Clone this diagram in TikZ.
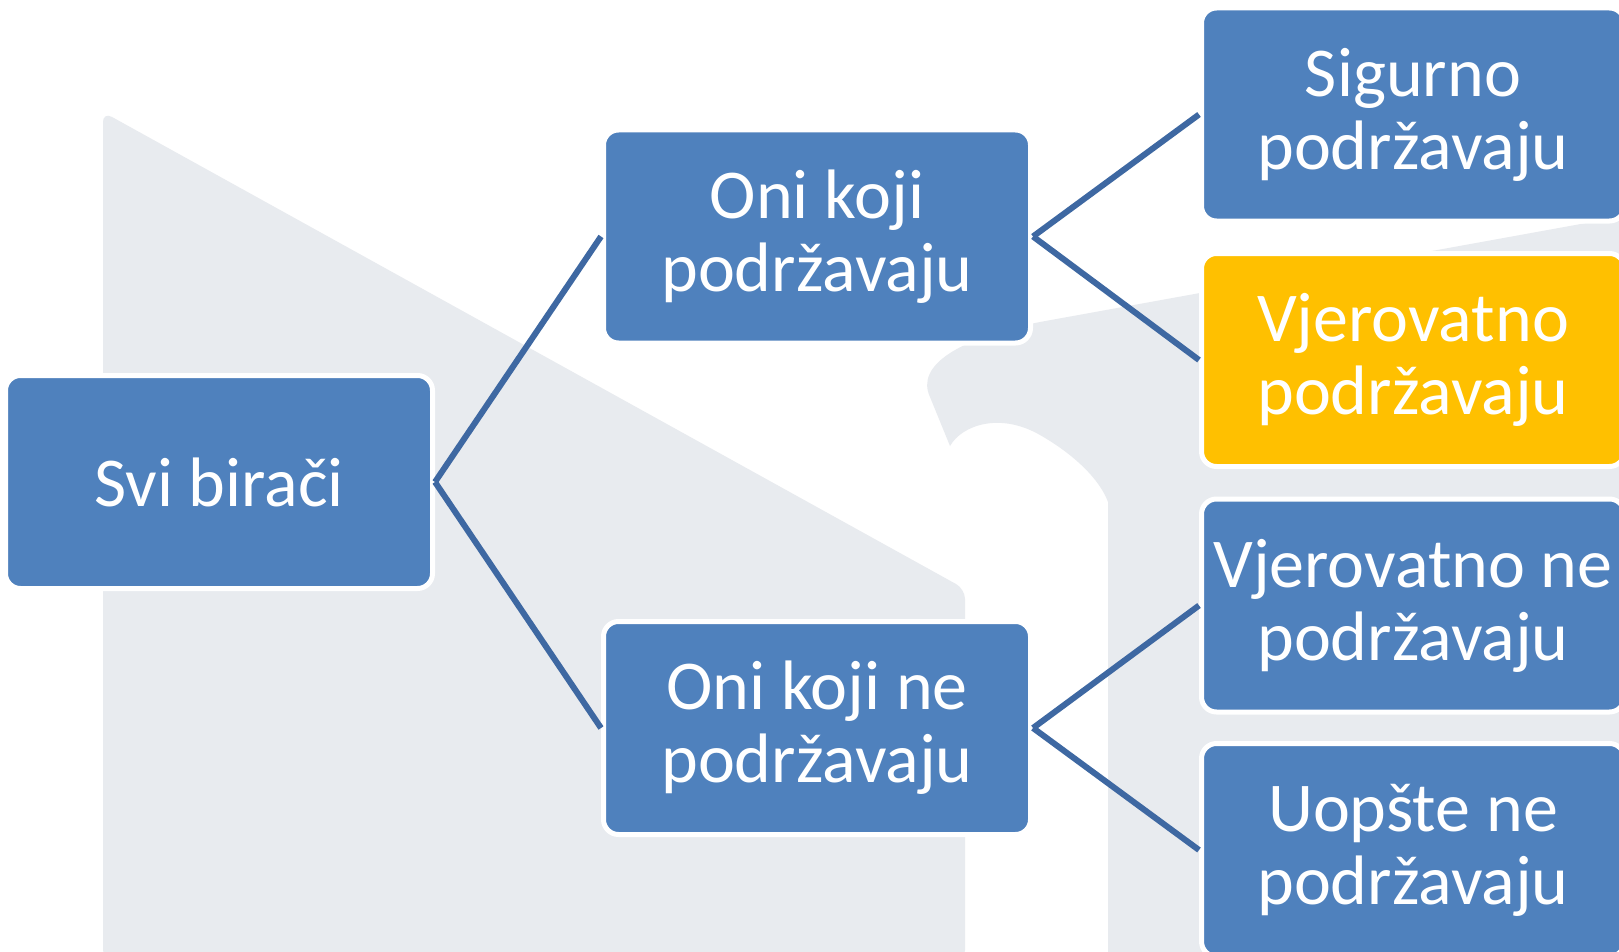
\documentclass[tikz,border=0pt]{standalone}
\usepackage{fontspec}
\setmainfont{Carlito}
\definecolor{boxblue}{RGB}{79,129,189}
\definecolor{boxyellow}{RGB}{255,192,0}
\definecolor{linkblue}{RGB}{62,104,162}
\definecolor{wmgray}{RGB}{232,235,239}
\begin{document}
\begin{tikzpicture}[x=1pt,y=-1pt,
  box/.style={rectangle, rounded corners=15pt, fill=boxblue, draw=white, line width=5pt,
    text=white, align=center, font=\fontsize{70}{73}\selectfont, inner sep=0pt,
    minimum width=427pt, minimum height=213pt},
  rbox/.style={box, minimum width=423pt},
  link/.style={draw=linkblue, line width=6pt}]
\useasboundingbox (0,0) rectangle (1619,952);
\begin{scope}
\clip (0,0) rectangle (1619,952);
\fill[white] (0,0) rectangle (1619,952);
% watermark shapes
\fill[wmgray, rounded corners=10pt] (103,960) -- (103,112) -- (965,589) -- (965,960) -- cycle;
\fill[wmgray] (1625,216) -- (1040,322) .. controls (960,338) and (915,365) .. (930,397)
  -- (950,446) .. controls (962,425) and (1000,412) .. (1040,435)
  .. controls (1075,455) and (1100,480) .. (1108,502) -- (1108,960) -- (1625,960) -- cycle;
% boxes
\node[box] (all) at (219,482) {Svi birači};
\node[box] (yes) at (817,236.5) {Oni koji\\podržavaju};
\node[box] (no) at (817,728) {Oni koji ne\\podržavaju};
\node[rbox] (sure) at (1413,114.5) {Sigurno\\podržavaju};
\node[rbox, fill=boxyellow] (prob) at (1413,360) {Vjerovatno\\podržavaju};
\node[rbox] (probnot) at (1413,605.5) {Vjerovatno ne\\podržavaju};
\node[rbox] (never) at (1413,850) {Uopšte ne\\podržavaju};
% connectors
\draw[link] (all.east) -- (yes.west);
\draw[link] (all.east) -- (no.west);
\draw[link] (yes.east) -- (sure.west);
\draw[link] (yes.east) -- (prob.west);
\draw[link] (no.east) -- (probnot.west);
\draw[link] (no.east) -- (never.west);
\end{scope}
\end{tikzpicture}
\end{document}
